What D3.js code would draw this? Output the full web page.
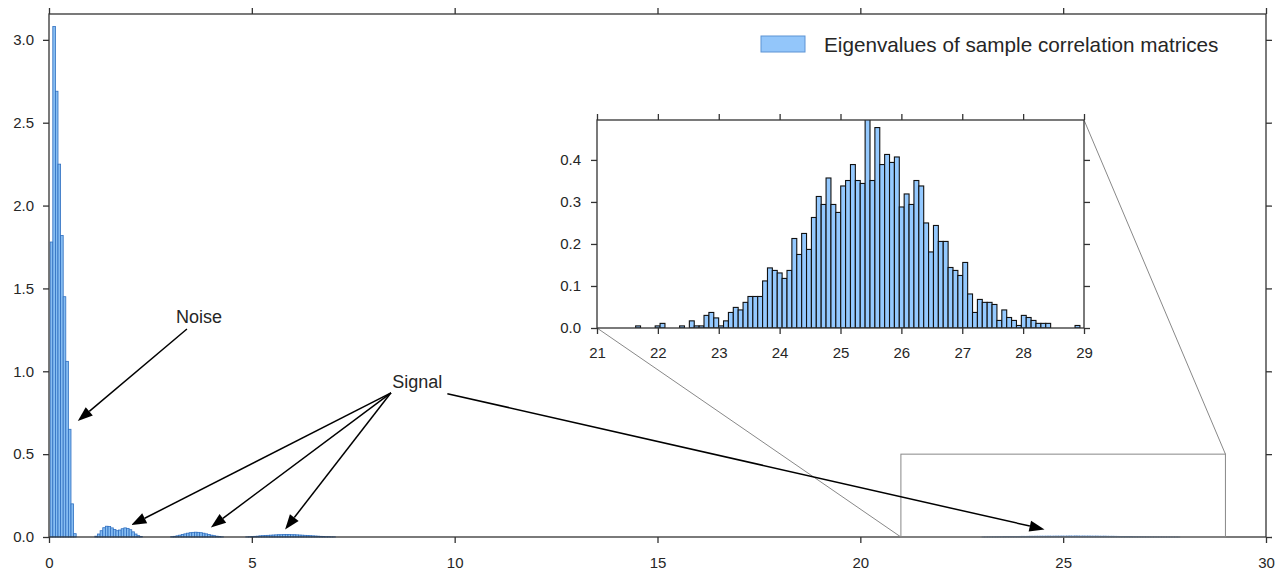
<!DOCTYPE html>
<html><head>
<script src="https://d3js.org/d3.v7.min.js"></script>
<style>
  body { margin: 0; background: #fff; }
  svg text { font-family: "Liberation Sans", Arial, sans-serif; fill: #262626; }
  .axis line { stroke: #333; stroke-width: 1.3; }
  .axis .domain { stroke: none; }
</style>
</head>
<body>
<svg id="chart" width="1282" height="572"></svg>
<script>
// main histogram (density of all eigenvalues)
const mainBinWidth = 0.065;
const noiseStart = 0.03;
const noiseWidth = 0.064;
const noiseHeights = [1.78, 3.08, 2.69, 2.25, 1.82, 1.45, 1.06, 0.65, 0.20, 0.02];

const signalAStart = 1.13;
const signalAHeights = [0.005, 0.018, 0.038, 0.056, 0.065, 0.063, 0.055, 0.045, 0.038, 0.042,
  0.050, 0.055, 0.052, 0.044, 0.031, 0.018, 0.008, 0.003];

const signalBStart = 3.0;
const signalBHeights = [0.002, 0.004, 0.007, 0.011, 0.015, 0.019, 0.023, 0.026, 0.028, 0.029,
  0.028, 0.026, 0.023, 0.019, 0.015, 0.011, 0.008, 0.005, 0.003, 0.001];

const signalCStart = 4.85;
const signalCHeights = [0.001, 0.002, 0.003, 0.004, 0.005, 0.007, 0.008, 0.009, 0.010, 0.011,
  0.012, 0.013, 0.014, 0.014, 0.015, 0.015, 0.015, 0.014, 0.014, 0.013,
  0.012, 0.011, 0.010, 0.009, 0.008, 0.007, 0.006, 0.005, 0.004, 0.003,
  0.002, 0.002, 0.001, 0.001];

const signalDStart = 23.0;
const signalDHeights = [0.0005, 0.0008, 0.001, 0.0012, 0.0015, 0.0018, 0.002, 0.0022, 0.0025, 0.0028,
  0.003, 0.0032, 0.0035, 0.0034, 0.0037, 0.004, 0.0038, 0.0041, 0.0043, 0.0042,
  0.0045, 0.0044, 0.0047, 0.0046, 0.0048, 0.005, 0.0047, 0.0049, 0.0051, 0.005,
  0.0052, 0.005, 0.0053, 0.0056, 0.0052, 0.0058, 0.0055, 0.0052, 0.0054, 0.0051,
  0.0053, 0.005, 0.0049, 0.0051, 0.0047, 0.0046, 0.0048, 0.0044, 0.0042, 0.0043,
  0.004, 0.0038, 0.0035, 0.0033, 0.0031, 0.0028, 0.0026, 0.0024, 0.0021, 0.0019,
  0.0017, 0.0015, 0.0013, 0.0011, 0.001, 0.0009, 0.0008, 0.0007, 0.0006, 0.0005,
  0.0004, 0.0004, 0.0003, 0.0003, 0.0002];

// inset histogram (largest eigenvalue only)
const insetStart = 21.635;
const insetBinWidth = 0.0802;
const insetHeights = [0.005, 0, 0, 0, 0.005, 0.011, 0, 0, 0, 0.005,
  0, 0.017, 0.005, 0.005, 0.030, 0.037, 0.024, 0.005, 0.017, 0.037,
  0.049, 0.043, 0.061, 0.075, 0.075, 0.075, 0.112, 0.143, 0.137, 0.131,
  0.118, 0.137, 0.213, 0.175, 0.225, 0.187, 0.263, 0.313, 0.294, 0.357,
  0.294, 0.275, 0.338, 0.351, 0.389, 0.351, 0.344, 0.510, 0.351, 0.477,
  0.389, 0.413, 0.394, 0.407, 0.288, 0.319, 0.294, 0.351, 0.338, 0.250,
  0.181, 0.244, 0.206, 0.206, 0.144, 0.137, 0.125, 0.156, 0.081, 0.037,
  0.068, 0.061, 0.061, 0.056, 0.018, 0.043, 0.025, 0.018, 0.006, 0.030,
  0.025, 0.018, 0.011, 0.011, 0.011, 0, 0, 0, 0, 0, 0.006];

const xTicks = [0, 5, 10, 15, 20, 25, 30];
const yTicks = [0, 0.5, 1.0, 1.5, 2.0, 2.5, 3.0];
const insetXTicks = [21, 22, 23, 24, 25, 26, 27, 28, 29];
const insetYTicks = [0, 0.1, 0.2, 0.3, 0.4];

const zoomBox = {x0: 21, x1: 29, y0: 0, y1: 0.5};
const legendLabel = "Eigenvalues of sample correlation matrices";

const noiseNote = {text: "Noise", at: [3.7, 1.33], from: [3.4, 1.255], to: [[0.71, 0.70]]};
const signalNote = {text: "Signal", at: [9.08, 0.935], from: [8.43, 0.87],
  to: [[2.03, 0.072], [3.99, 0.058], [5.82, 0.046]]};
const signalNoteRight = {from: [9.82, 0.865], to: [[24.54, 0.046]]};

// ---------------------------------------------------------------
const svg = d3.select("#chart");

const x = d3.scaleLinear().domain([0, 30]).range([49, 1266]);
const y = d3.scaleLinear().domain([0, 3.156]).range([537, 14]);
const ix = d3.scaleLinear().domain([21, 29]).range([597, 1084]);
const iy = d3.scaleLinear().domain([0, 0.495]).range([328, 120]);

function toBins(start, w, heights) {
  return heights.map((h, i) => ({x0: start + i * w, x1: start + (i + 1) * w, h: h}));
}

let mainBins = [].concat(
  toBins(noiseStart, noiseWidth, noiseHeights),
  toBins(signalAStart, mainBinWidth, signalAHeights),
  toBins(signalBStart, mainBinWidth, signalBHeights),
  toBins(signalCStart, mainBinWidth, signalCHeights),
  toBins(signalDStart, mainBinWidth, signalDHeights)
).filter(d => d.h > 0);

function drawFrame(g, xs, ys, xt, yt, xfmt, yfmt, fontSize, xpad, ypad) {
  const [bx, tx] = xs.range();
  const [by, ty] = ys.range();
  g.append("g").attr("class", "axis").attr("transform", "translate(0," + by + ")")
    .call(d3.axisBottom(xs).tickValues(xt).tickSize(6).tickSizeOuter(0).tickPadding(xpad).tickFormat(xfmt));
  g.append("g").attr("class", "axis").attr("transform", "translate(0," + ty + ")")
    .call(d3.axisTop(xs).tickValues(xt).tickSize(6).tickSizeOuter(0).tickFormat(""));
  g.append("g").attr("class", "axis").attr("transform", "translate(" + bx + ",0)")
    .call(d3.axisLeft(ys).tickValues(yt).tickSize(6).tickSizeOuter(0).tickPadding(ypad).tickFormat(yfmt));
  g.append("g").attr("class", "axis").attr("transform", "translate(" + tx + ",0)")
    .call(d3.axisRight(ys).tickValues(yt).tickSize(6).tickSizeOuter(0).tickFormat(""));
  g.selectAll(".axis text").attr("font-size", fontSize).attr("font-family", null).attr("fill", "#262626");
  g.selectAll(".axis").attr("font-family", null);
  g.append("rect")
    .attr("x", bx).attr("y", ty).attr("width", tx - bx).attr("height", by - ty)
    .attr("fill", "none").attr("stroke", "#333").attr("stroke-width", 1.3);
}

// main bars
let main = svg.append("g");
main.selectAll("rect.bar").data(mainBins).join("rect")
  .attr("class", "bar")
  .attr("x", d => x(d.x0))
  .attr("width", d => x(d.x1) - x(d.x0))
  .attr("y", d => y(d.h))
  .attr("height", d => y(0) - y(d.h))
  .attr("fill", "#86bdf2")
  .attr("stroke", "#2f6fc0")
  .attr("stroke-width", 0.8);

drawFrame(main, x, y, xTicks, yTicks, d3.format("d"), d3.format(".1f"), 15, 14, 9);

// zoom rectangle + connectors
main.append("rect")
  .attr("x", x(zoomBox.x0)).attr("y", y(zoomBox.y1))
  .attr("width", x(zoomBox.x1) - x(zoomBox.x0)).attr("height", y(zoomBox.y0) - y(zoomBox.y1))
  .attr("fill", "none").attr("stroke", "#888").attr("stroke-width", 1);
main.append("line")
  .attr("x1", ix(21)).attr("y1", iy(0)).attr("x2", x(zoomBox.x0)).attr("y2", y(zoomBox.y0))
  .attr("stroke", "#888").attr("stroke-width", 1);
main.append("line")
  .attr("x1", ix(29)).attr("y1", iy(0.495)).attr("x2", x(zoomBox.x1)).attr("y2", y(zoomBox.y1))
  .attr("stroke", "#888").attr("stroke-width", 1);

// annotations
function arrow(g, from, to) {
  const x1 = x(from[0]), y1 = y(from[1]), x2 = x(to[0]), y2 = y(to[1]);
  const dx = x2 - x1, dy = y2 - y1, len = Math.sqrt(dx * dx + dy * dy);
  const ux = dx / len, uy = dy / len;
  const hl = 15, hw = 5.5;
  const bx = x2 - ux * hl, by = y2 - uy * hl;
  g.append("line").attr("x1", x1).attr("y1", y1).attr("x2", bx).attr("y2", by)
    .attr("stroke", "#000").attr("stroke-width", 1.5);
  g.append("polygon")
    .attr("points", [[x2, y2], [bx - uy * hw, by + ux * hw], [bx + uy * hw, by - ux * hw]].map(p => p.join(",")).join(" "))
    .attr("fill", "#000");
}
[noiseNote, signalNote, signalNoteRight].forEach(n => {
  n.to.forEach(t => arrow(main, n.from, t));
  if (n.text) {
    main.append("text").attr("x", x(n.at[0])).attr("y", y(n.at[1]))
      .attr("text-anchor", "middle").attr("dominant-baseline", "central")
      .attr("font-size", 18).text(n.text);
  }
});

// inset
let inset = svg.append("g");
inset.append("rect").attr("x", ix(21)).attr("y", iy(0.495))
  .attr("width", ix(29) - ix(21)).attr("height", iy(0) - iy(0.495)).attr("fill", "#fff");
svg.append("clipPath").attr("id", "insetClip").append("rect")
  .attr("x", ix(21)).attr("y", iy(0.495))
  .attr("width", ix(29) - ix(21)).attr("height", iy(0) - iy(0.495));
inset.append("g").attr("clip-path", "url(#insetClip)")
  .selectAll("rect").data(toBins(insetStart, insetBinWidth, insetHeights).filter(d => d.h > 0)).join("rect")
  .attr("x", d => ix(d.x0))
  .attr("width", d => ix(d.x1) - ix(d.x0))
  .attr("y", d => iy(d.h))
  .attr("height", d => iy(0) - iy(d.h))
  .attr("fill", "#94c9ff")
  .attr("stroke", "#111")
  .attr("stroke-width", 1.1);
drawFrame(inset, ix, iy, insetXTicks, insetYTicks, d3.format("d"), d3.format(".1f"), 15, 13, 10);

// legend
let legend = svg.append("g");
legend.append("rect").attr("x", 761).attr("y", 36).attr("width", 44).attr("height", 16)
  .attr("fill", "#93c6fa").attr("stroke", "#5c93d4").attr("stroke-width", 1);
legend.append("text").attr("x", 824).attr("y", 44).attr("dominant-baseline", "central")
  .attr("font-size", 20.7).text(legendLabel);
</script>
</body>
</html>
